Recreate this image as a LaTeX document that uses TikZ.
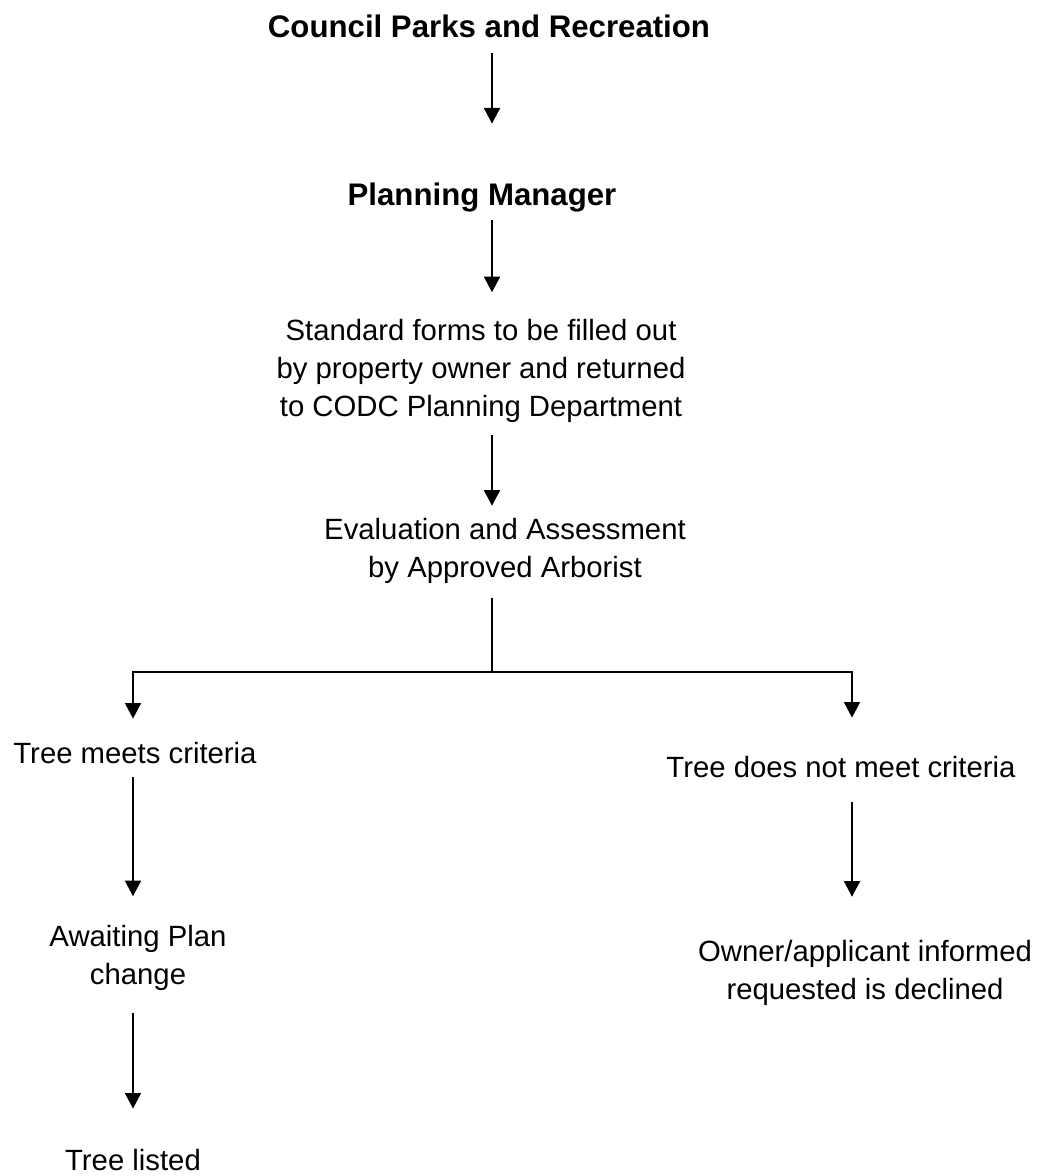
\documentclass[tikz,border=0pt]{standalone}
\usepackage{fontspec}
\setmainfont{Liberation Sans}
\usetikzlibrary{arrows.meta}

\tikzset{
  txt/.style={inner sep=0pt, align=center, font=\fontsize{14.65}{19}\selectfont},
  oneline/.style={txt, text height=10.5pt, text depth=3.1pt, anchor=base},
  head/.style={oneline, font=\fontsize{15.6}{19}\selectfont\bfseries, text height=11.3pt, text depth=3.3pt},
  arr/.style={-{Triangle[width=8pt,length=7.8pt]}, line width=0.9pt},
  link/.style={line width=0.9pt},
}

\begin{document}
\begin{tikzpicture}[x=0.5pt,y=0.5pt,yscale=-1,xscale=1]
        \useasboundingbox (0,0) rectangle (1040,1176);

        %Coordinates for the arrow columns
        \coordinate (spine) at (492,0);
        \coordinate (lcol) at (133,0);
        \coordinate (rcol) at (852,0);
        \coordinate (fork) at (492,672);

        % Text Node
        \node[head] (council) at (489,38) {Council Parks and Recreation};
        % Text Node
        \node[head] (planning) at (482,206) {Planning Manager};
        % Text Node
        \node[txt] (forms) at (481,370.9) {Standard forms to be filled out\\by property owner and returned\\to CODC Planning Department};
        % Text Node
        \node[txt] (arborist) at (505,551.4) {Evaluation and Assessment\\by Approved Arborist};
        % Text Node
        \node[oneline] (meets) at (135,763) {Tree meets criteria};
        % Text Node
        \node[oneline] (notmeets) at (841,777) {Tree does not meet criteria};
        % Text Node
        \node[txt] (awaiting) at (138,957.9) {Awaiting Plan\\change};
        % Text Node
        \node[txt] (declined) at (865,973.4) {Owner/applicant informed\\requested is declined};
        % Text Node
        \node[oneline] (listed) at (133,1170) {Tree listed};

        %Straight Lines
        \draw[arr, shorten <=4.2pt, shorten >=29.7pt] (council.south -| spine) -- (planning.north -| spine);
        %Straight Lines
        \draw[arr, shorten <=3.7pt, shorten >=13.3pt] (planning.south -| spine) -- (forms.north -| spine);
        %Straight Lines
        \draw[arr, shorten <=5.9pt, shorten >=6.3pt] (forms.south -| spine) -- (arborist.north -| spine);
        %Straight Lines
        \draw[link, shorten <=6.9pt] (arborist.south -| spine) -- (fork);
        \draw[arr, shorten >=11.5pt] (fork) -| (meets.north -| lcol);
        \draw[arr, shorten >=19pt] (fork) -| (notmeets.north -| rcol);
        %Straight Lines
        \draw[arr, shorten <=3.9pt, shorten >=14.3pt] (meets.south -| lcol) -- (awaiting.north -| lcol);
        %Straight Lines
        \draw[arr, shorten <=9.4pt, shorten >=21.8pt] (notmeets.south -| rcol) -- (declined.north -| rcol);
        %Straight Lines
        \draw[arr, shorten <=10.9pt, shorten >=20pt] (awaiting.south -| lcol) -- (listed.north -| lcol);

    \end{tikzpicture}
\end{document}
